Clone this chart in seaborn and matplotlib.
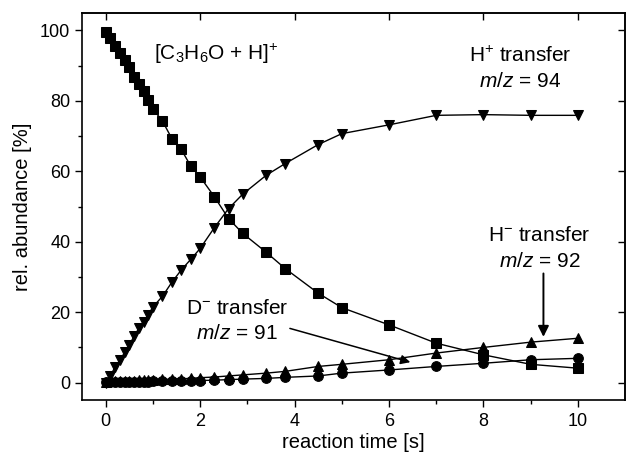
import numpy as np
import pandas as pd
import matplotlib
matplotlib.use("Agg")
import matplotlib.pyplot as plt
import seaborn as sns

# ---- data ----
time_s = [0, 0.1, 0.2, 0.3, 0.4, 0.5, 0.6, 0.7, 0.8, 0.9, 1.0,
          1.2, 1.4, 1.6, 1.8, 2.0, 2.3, 2.6, 2.9, 3.4, 3.8, 4.5, 5, 6, 7, 8, 9, 10]
parent_ion = [99.5, 97.8, 95.7, 93.6, 91.6, 89.7, 86.7, 84.8, 82.9, 80.3, 77.7,
              74.3, 69.3, 66.2, 61.5, 58.4, 52.8, 46.6, 42.4, 37.0, 32.4, 25.4, 21.3, 16.4, 11.2, 7.9, 5.2, 4.1]
h_plus_94 = [0, 2.0, 4.5, 6.3, 8.6, 10.7, 13.2, 15.4, 17.3, 19.3, 21.5,
             24.5, 28.5, 32.0, 35.0, 38.1, 44.0, 49.4, 53.5, 58.9, 62.2, 67.6, 70.7, 73.2, 75.9, 76.1, 75.9, 75.9]
h_minus_92 = [0.3, 0.35, 0.4, 0.45, 0.5, 0.55, 0.6, 0.65, 0.7, 0.75, 0.8,
              0.9, 1.0, 1.1, 1.2, 1.4, 1.6, 1.9, 2.2, 2.7, 3.2, 4.6, 5.2, 6.5, 8.4, 10.0, 11.5, 12.6]
d_minus_91 = [0.1, 0.1, 0.15, 0.15, 0.2, 0.2, 0.25, 0.25, 0.3, 0.3, 0.35,
              0.4, 0.45, 0.5, 0.55, 0.6, 0.7, 0.85, 1.0, 1.2, 1.5, 1.9, 2.7, 3.6, 4.6, 5.5, 6.5, 6.9]

x_ticks = [0, 2, 4, 6, 8, 10]
y_ticks = [0, 20, 40, 60, 80, 100]

sns.set_theme(style="ticks")
plt.rcParams['font.family'] = ['Liberation Sans', 'DejaVu Sans']
plt.rcParams['mathtext.fontset'] = 'custom'
plt.rcParams['mathtext.rm'] = 'Liberation Sans'
plt.rcParams['mathtext.it'] = 'Liberation Sans:italic'
plt.rcParams['mathtext.bf'] = 'Liberation Sans:bold'

fig = plt.figure(figsize=(6.27, 4.59), dpi=100)
ax = fig.add_axes([0.131, 0.128, 0.866, 0.844])

series = [
    (parent_ion, 's', 6.5),
    (h_plus_94, 'v', 7.5),
    (h_minus_92, '^', 7.5),
    (d_minus_91, 'o', 7),
]
for vals, mk, ms in series:
    df = pd.DataFrame({"t": time_s, "v": vals})
    sns.lineplot(data=df, x="t", y="v", ax=ax, color="black", lw=1.0,
                 marker=mk, markersize=ms, markeredgecolor="black",
                 markerfacecolor="black", estimator=None, sort=False)

ax.set_xlim(-0.5, 11)
ax.set_ylim(-5, 105)
ax.set_xticks(x_ticks)
ax.set_yticks(y_ticks)
ax.set_xticks([1, 3, 5, 7, 9], minor=True)
ax.set_yticks([10, 30, 50, 70, 90], minor=True)
ax.tick_params(axis='both', which='major', direction='out', length=5, width=1,
               labelsize=13, color='black', labelcolor='black')
ax.tick_params(axis='x', which='major', pad=4)
ax.tick_params(axis='both', which='minor', direction='out', length=3, width=1, color='black')

# inward ticks on top and right
axt = ax.secondary_xaxis('top')
axt.set_xticks(x_ticks)
axt.tick_params(direction='in', length=5, width=1, labeltop=False, color='black')
axr = ax.secondary_yaxis('right')
axr.set_yticks(y_ticks)
axr.tick_params(direction='in', length=5, width=1, labelright=False, color='black')

for s in ax.spines.values():
    s.set_visible(True)
    s.set_linewidth(1.2)
    s.set_color('black')

ax.set_xlabel("reaction time [s]", fontsize=14.5, color='black', labelpad=2)
ax.set_ylabel("rel. abundance [%]", fontsize=14.5, color='black', labelpad=6)

fs = 15
ax.text(1.02, 93.3, r"[C$_3$H$_6$O + H]$^{+}$", fontsize=fs, ha='left', va='center', color='black')
ax.text(8.77, 92.8, r"H$^{+}$ transfer", fontsize=fs, ha='center', va='center', color='black')
ax.text(8.77, 85.6, r"$m/z$ = 94", fontsize=fs, ha='center', va='center', color='black')
ax.text(9.19, 41.9, r"H$^{-}$ transfer", fontsize=fs, ha='center', va='center', color='black')
ax.text(9.19, 34.3, r"$m/z$ = 92", fontsize=fs, ha='center', va='center', color='black')
ax.text(2.78, 21.1, r"D$^{-}$ transfer", fontsize=fs, ha='center', va='center', color='black')
ax.text(2.78, 14.0, r"$m/z$ = 91", fontsize=fs, ha='center', va='center', color='black')

ax.annotate("", xy=(9.27, 13.0), xytext=(9.27, 31.0),
            arrowprops=dict(arrowstyle='-|>', color='black', lw=1.4, mutation_scale=16,
                            shrinkA=0, shrinkB=0))
ax.annotate("", xy=(6.45, 5.8), xytext=(3.9, 15.4),
            arrowprops=dict(arrowstyle='-|>', color='black', lw=1.1, mutation_scale=14,
                            shrinkA=0, shrinkB=0))

fig.savefig("out.png", dpi=100)
